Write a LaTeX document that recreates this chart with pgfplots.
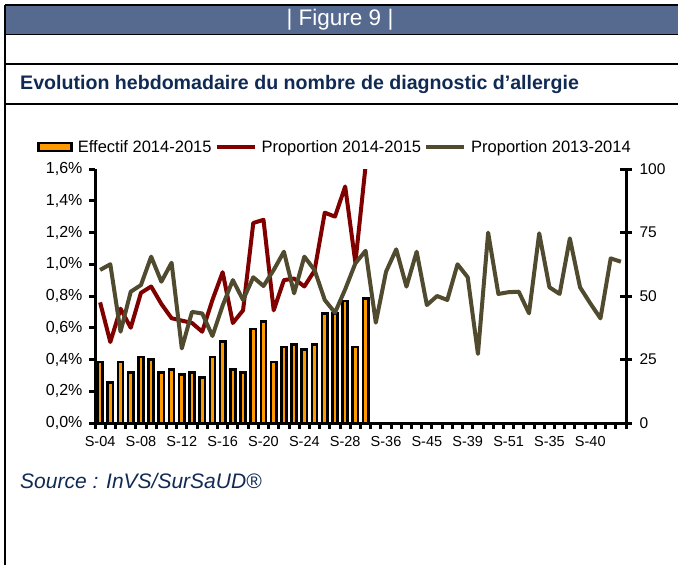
\documentclass[border=0pt]{standalone}
\usepackage{pgfplots}
\pgfplotsset{compat=1.18}
\usepackage{fontspec}
\setmainfont{Liberation Sans}
\definecolor{hdr}{RGB}{86,106,144}
\definecolor{navy}{RGB}{16,42,84}
\definecolor{barorange}{RGB}{255,153,0}
\definecolor{darkred}{RGB}{128,0,0}
\definecolor{olivegray}{RGB}{80,75,46}
\pgfplotsset{linelegend/.style={legend image code/.code={\draw[##1] (0pt,0pt) -- (38pt,0pt);}}}
\begin{document}
\begin{tikzpicture}
\path[use as bounding box] (0pt,0pt) rectangle (678pt,-565pt);
\fill[hdr] (5pt,-5pt) rectangle (680pt,-34.5pt);
\draw[line width=2.5pt] (5pt,-5pt) -- (680pt,-5pt);
\draw[line width=2.5pt] (5pt,-5pt) -- (5pt,-570pt);
\draw[line width=1.5pt] (5pt,-34.5pt) -- (680pt,-34.5pt);
\draw[line width=2pt] (5pt,-63.5pt) -- (680pt,-63.5pt);
\draw[line width=2pt] (5pt,-104pt) -- (680pt,-104pt);
\node[text=white, font=\fontsize{22.5}{26}\selectfont, inner sep=0pt] at (340pt,-20pt) {| Figure 9 |};
\node[anchor=west, text=navy, font=\bfseries\fontsize{19.6}{23}\selectfont, inner sep=0pt] at (20pt,-84pt) {Evolution hebdomadaire du nombre de diagnostic d’allergie};
\node[anchor=west, text=navy, font=\itshape\fontsize{21}{25}\selectfont, inner sep=0pt] at (20pt,-481pt) {Source : InVS/SurSaUD®};

% right axis: counts (bars)
\begin{axis}[
  at={(95pt,-423pt)}, anchor=south west,
  scale only axis, width=531pt, height=254pt,
  xmin=-0.5, xmax=51.5, ymin=0, ymax=100,
  axis x line=none, axis y line=right,
  y axis line style={line width=3pt,-},
  ytick={0,25,50,75,100},
  yticklabels={0,25,50,75,100},
  major tick length=12pt, tick align=center,
  ytick style={line width=3pt,black},
  yticklabel style={font=\fontsize{15.5}{18}\selectfont, xshift=4pt},
]
\addplot[ybar, bar width=5.2pt, fill=barorange, draw=black, line width=2.6pt] coordinates {
(0,24) (1,16) (2,24) (3,20) (4,26) (5,25) (6,20) (7,21) (8,19) (9,20)
(10,18) (11,26) (12,32) (13,21) (14,20) (15,37) (16,40) (17,24) (18,30) (19,31)
(20,29) (21,31) (22,43) (23,43) (24,48) (25,30) (26,49)
};
\end{axis}

% left axis: proportions (lines)
\begin{axis}[
  at={(95pt,-423pt)}, anchor=south west,
  scale only axis, width=531pt, height=254pt,
  xmin=-0.5, xmax=51.5, ymin=0, ymax=1.6,
  axis x line=bottom, axis y line=left,
  axis line style={line width=3pt,-},
  xtick={-0.5,0.5,...,51.5},
  xticklabels={},
  x tick style={line width=3pt,black},
  extra x ticks={0,4,...,48},
  extra x tick labels={S-04,S-08,S-12,S-16,S-20,S-24,S-28,S-36,S-45,S-39,S-51,S-35,S-40},
  extra x tick style={major tick length=0pt, xticklabel style={font=\fontsize{14.5}{17}\selectfont, yshift=-10pt}},
  ytick={0,0.2,0.4,0.6,0.8,1.0,1.2,1.4,1.6},
  yticklabels={{0,0\%},{0,2\%},{0,4\%},{0,6\%},{0,8\%},{1,0\%},{1,2\%},{1,4\%},{1,6\%}},
  y tick style={line width=3pt,black},
  major tick length=6pt, tick align=outside,
  yticklabel style={font=\fontsize{16}{19}\selectfont, xshift=-3pt},
  legend columns=3,
  legend style={draw=none, fill=none, at={(-0.109,1.087)}, anchor=west, inner sep=0pt,
    font=\fontsize{16.5}{19}\selectfont,
    /tikz/every odd column/.append style={column sep=3pt},
    /tikz/every even column/.append style={column sep=1pt}},
]
\addlegendimage{legend image code/.code={\draw[fill=barorange,draw=black,line width=2.6pt] (0pt,-4pt) rectangle (33pt,4pt);}}
\addlegendentry{Effectif 2014-2015}
\addplot[darkred, line width=4pt, line join=round, linelegend] coordinates {
(0,0.76) (1,0.51) (2,0.72) (3,0.60) (4,0.82) (5,0.86) (6,0.75) (7,0.66) (8,0.645) (9,0.63)
(10,0.575) (11,0.775) (12,0.95) (13,0.63) (14,0.71) (15,1.26) (16,1.28) (17,0.71) (18,0.90) (19,0.91)
(20,0.86) (21,0.96) (22,1.325) (23,1.30) (24,1.49) (25,1.01) (26,1.62)
};
\addlegendentry{Proportion 2014-2015}
\addplot[olivegray, line width=4pt, line join=round, linelegend] coordinates {
(0,0.964) (1,1.0) (2,0.575) (3,0.827) (4,0.869) (5,1.048) (6,0.89) (7,1.01) (8,0.47) (9,0.70)
(10,0.69) (11,0.548) (12,0.74) (13,0.90) (14,0.775) (15,0.918) (16,0.863) (17,0.964) (18,1.079) (19,0.817)
(20,1.048) (21,0.964) (22,0.775) (23,0.695) (24,0.842) (25,1.006) (26,1.085) (27,0.632) (28,0.953) (29,1.094)
(30,0.859) (31,1.079) (32,0.743) (33,0.80) (34,0.775) (35,1.0) (36,0.918) (37,0.435) (38,1.199) (39,0.813)
(40,0.824) (41,0.827) (42,0.691) (43,1.195) (44,0.855) (45,0.813) (46,1.163) (47,0.855) (48,0.754) (49,0.659)
(50,1.037) (51,1.016)
};
\addlegendentry{Proportion 2013-2014}
\end{axis}
\end{tikzpicture}
\end{document}
